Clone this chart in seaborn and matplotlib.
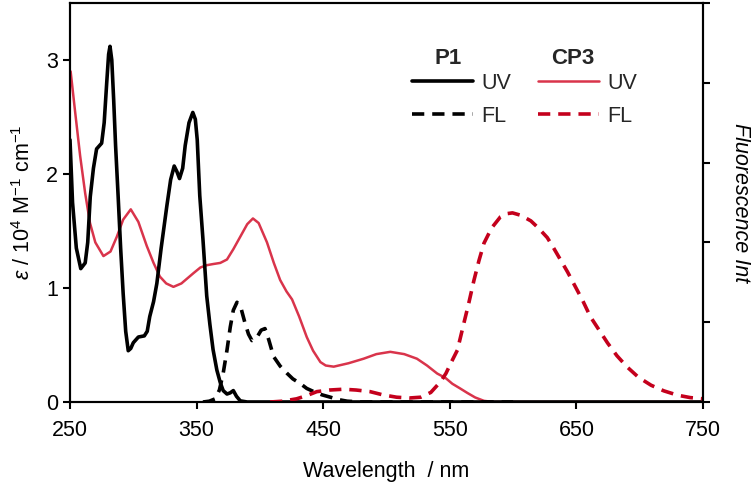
import numpy as np
import pandas as pd
import matplotlib
matplotlib.use('Agg')
import matplotlib.pyplot as plt
from matplotlib.lines import Line2D
import seaborn as sns

# P1 absorption (left axis, 10^4 M-1 cm-1)
p1_uv_x = [250, 252, 255, 258.5, 262, 264, 266, 268.5, 271, 275, 277, 279, 280.5, 281.6, 283, 284.5,
           286, 288, 290, 292, 294, 296, 298, 300, 304, 308.7, 311, 313, 316, 318.6, 322, 326.5,
           329.5, 332.3, 334.5, 336.5, 339, 341, 344, 347, 349, 350.5, 352.5, 355,
           358, 360.5, 363, 366, 368.7, 371, 374, 376.5, 379, 381.5, 384.5, 390, 450, 750]
p1_uv_y = [2.30, 1.75, 1.35, 1.17, 1.22, 1.40, 1.80, 2.05, 2.22, 2.27, 2.45, 2.80, 3.05, 3.12, 3.00, 2.65,
           2.25, 1.81, 1.35, 0.95, 0.62, 0.45, 0.47, 0.52, 0.57, 0.58, 0.62, 0.75, 0.88, 1.04, 1.35, 1.72,
           1.95, 2.07, 2.02, 1.96, 2.05, 2.25, 2.45, 2.54, 2.48, 2.30, 1.81, 1.43,
           0.93, 0.68, 0.46, 0.28, 0.17, 0.10, 0.07, 0.08, 0.10, 0.05, 0.01, 0.0, 0.0, 0.0]

# CP3 absorption (left axis)
cp3_uv_x = [250.5, 254, 258, 262, 265.8, 270, 276.4, 282, 287, 292, 298, 304, 310.6, 316,
            321, 326, 331.7, 338, 347.5, 353, 358, 363, 368.7, 374, 379, 384.5, 390,
            394.5, 399, 405.6, 411, 416, 421, 425.4, 431, 437, 442, 447.8, 452, 458.3,
            470, 482, 492, 503, 514, 524, 532, 540, 546.7, 552, 558, 563.8, 570, 577,
            585, 750]
cp3_uv_y = [2.90, 2.55, 2.16, 1.83, 1.57, 1.40, 1.28, 1.32, 1.45, 1.60, 1.69, 1.58, 1.37, 1.22,
            1.10, 1.04, 1.01, 1.04, 1.13, 1.18, 1.20, 1.21, 1.22, 1.25, 1.34, 1.45, 1.56,
            1.61, 1.57, 1.40, 1.22, 1.07, 0.97, 0.90, 0.75, 0.57, 0.45, 0.35, 0.32, 0.31,
            0.34, 0.38, 0.42, 0.44, 0.42, 0.38, 0.32, 0.25, 0.21, 0.16, 0.12, 0.08, 0.04, 0.01,
            0.0, 0.0]

# fluorescence (right axis, arbitrary units)
p1_fl_x = [355, 360, 364.7, 368, 371, 374, 376.6, 379, 381.9, 385, 388.4, 391, 393.7, 398,
           401, 404, 407, 410.8, 416, 421.4, 426, 432, 437, 442.5, 449, 455.7, 462, 469, 480, 600]
p1_fl_y = [0.0, 0.01, 0.04, 0.15, 0.36, 0.65, 0.94, 1.15, 1.25, 1.18, 0.98, 0.85, 0.77, 0.82,
           0.90, 0.92, 0.78, 0.57, 0.45, 0.36, 0.29, 0.23, 0.17, 0.13, 0.09, 0.06, 0.03, 0.01, 0.0, 0.0]

cp3_fl_x = [408, 418, 429, 437, 445, 455, 466, 476, 487, 497, 508, 518, 527, 535, 543, 547,
            550.6, 556, 561, 565, 569, 573, 577, 583, 590, 595, 599.5, 606, 614, 620, 627,
            632, 637.5, 643, 648, 655, 661, 668, 674.6, 682, 690, 699, 709, 719, 730, 740, 750]
cp3_fl_y = [0.0, 0.01, 0.04, 0.08, 0.13, 0.15, 0.16, 0.15, 0.13, 0.09, 0.06, 0.05, 0.06, 0.12, 0.26, 0.36,
            0.48, 0.65, 0.98, 1.24, 1.52, 1.77, 1.99, 2.18, 2.32, 2.36, 2.37, 2.34, 2.27, 2.18, 2.06,
            1.93, 1.78, 1.63, 1.48, 1.27, 1.07, 0.90, 0.74, 0.58, 0.44, 0.31, 0.21, 0.14, 0.085, 0.055, 0.04]

x_ticks = [250, 350, 450, 550, 650, 750]
y_ticks = [0, 1, 2, 3]

black = '#000000'
red_uv = '#d9344b'
red_fl = '#c4001c'

sns.set_theme(style='ticks')
plt.rcParams['font.family'] = ['Liberation Sans', 'DejaVu Sans']
plt.rcParams['mathtext.fontset'] = 'custom'
plt.rcParams['mathtext.rm'] = 'Liberation Sans'
plt.rcParams['mathtext.it'] = 'Liberation Sans:italic'
plt.rcParams['mathtext.bf'] = 'Liberation Sans:bold'

fig = plt.figure(figsize=(7.51, 4.82), dpi=100)
ax = fig.add_axes([70 / 751, 1 - 402 / 482, 633 / 751, 399 / 482])
ax2 = ax.twinx()

lw_k = 2.6
dash = (0, (3.4, 2.2))
sns.lineplot(x=cp3_uv_x, y=cp3_uv_y, ax=ax, color=red_uv, lw=1.8, sort=False, estimator=None)
sns.lineplot(x=p1_uv_x, y=p1_uv_y, ax=ax, color=black, lw=lw_k, sort=False, estimator=None)
sns.lineplot(x=p1_fl_x, y=p1_fl_y, ax=ax2, color=black, lw=lw_k, sort=False, estimator=None)
sns.lineplot(x=cp3_fl_x, y=cp3_fl_y, ax=ax2, color=red_fl, lw=lw_k, sort=False, estimator=None)
for l in ax2.lines:
    l.set_linestyle(dash)

ax.set_xlim(250, 750)
ax.set_ylim(0, 3.5)
ax2.set_ylim(0, 5)
ax.set_xticks(x_ticks)
ax.set_yticks(y_ticks)
ax2.set_yticks([0, 1, 2, 3, 4, 5])
ax2.set_yticklabels([])

for a in (ax, ax2):
    for s in a.spines.values():
        s.set_linewidth(1.5)
        s.set_color('black')
    a.tick_params(width=1.5, length=5, color='black', labelsize=15.5, labelcolor='black')
ax.tick_params(axis='x', pad=8)

ax.set_xlabel('Wavelength  / nm', fontsize=15.5, labelpad=14, color='black')
ax.set_ylabel(r'$\it{\varepsilon}$ / 10$^4$ M$^{-1}$ cm$^{-1}$', fontsize=15.5, labelpad=8, color='black')
ax2.set_ylabel('Fluorescence Int', fontsize=15.5, style='italic', rotation=270,
               labelpad=26, color='black')

# legend, two little groups
h_p1 = [Line2D([], [], color=black, lw=lw_k), Line2D([], [], color=black, lw=lw_k, ls=dash)]
h_cp3 = [Line2D([], [], color=red_uv, lw=1.8), Line2D([], [], color=red_fl, lw=lw_k, ls=dash)]
leg_kw = dict(loc='upper left', bbox_transform=fig.transFigure, frameon=False, fontsize=15.5,
              handlelength=2.85, handletextpad=0.35, labelspacing=0.55, borderpad=0, borderaxespad=0)
leg1 = ax.legend(h_p1, ['UV', 'FL'], bbox_to_anchor=(412 / 751, 1 - 73 / 482), **leg_kw)
ax.add_artist(leg1)
ax.legend(h_cp3, ['UV', 'FL'], bbox_to_anchor=(538 / 751, 1 - 73 / 482), **leg_kw)
fig.text(448 / 751, 1 - 58 / 482, 'P1', fontsize=16, fontweight='bold', ha='center', va='center')
fig.text(573 / 751, 1 - 58 / 482, 'CP3', fontsize=16, fontweight='bold', ha='center', va='center')

fig.savefig('out.png', dpi=100)
